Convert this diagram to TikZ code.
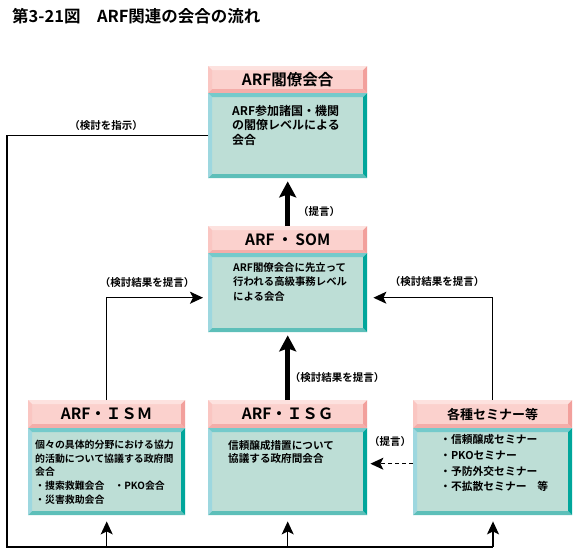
\documentclass[tikz,border=0pt]{standalone}
\usepackage{fontspec}
\setmainfont{Noto Sans CJK JP}[BoldFont={* Bold}]
\usepackage{tikz}
\usetikzlibrary{arrows.meta}

\definecolor{hdrfill}{HTML}{FBD1CD}
\definecolor{hdrtop}{HTML}{FDE2DF}
\definecolor{hdrleft}{HTML}{FAC6C2}
\definecolor{hdrright}{HTML}{F2A09C}
\definecolor{hdrbot}{HTML}{F4ADA9}
\definecolor{bodyfill}{HTML}{BDDED6}
\definecolor{bodytop}{HTML}{74CACB}
\definecolor{bodyleft}{HTML}{9DD7DF}
\definecolor{bodyright}{HTML}{00A69B}
\definecolor{bodybot}{HTML}{5DBFB9}

\tikzset{
  bev/.style n args={5}{fill=#1, inner sep=0pt, path picture={
    \coordinate (bnw) at (path picture bounding box.north west);
    \coordinate (bne) at (path picture bounding box.north east);
    \coordinate (bsw) at (path picture bounding box.south west);
    \coordinate (bse) at (path picture bounding box.south east);
    \fill[#2] (bnw) -- (bne) -- ([shift={(-4pt,-4pt)}]bne) -- ([shift={(4pt,-4pt)}]bnw) -- cycle;
    \fill[#3] (bnw) -- (bsw) -- ([shift={(4pt,4pt)}]bsw) -- ([shift={(4pt,-4pt)}]bnw) -- cycle;
    \fill[#4] (bne) -- (bse) -- ([shift={(-4pt,4pt)}]bse) -- ([shift={(-4pt,-4pt)}]bne) -- cycle;
    \fill[#5] (bsw) -- (bse) -- ([shift={(-4pt,4pt)}]bse) -- ([shift={(4pt,4pt)}]bsw) -- cycle;
  }},
  header/.style={bev={hdrfill}{hdrtop}{hdrleft}{hdrright}{hdrbot}, anchor=north west,
    minimum width=159pt, minimum height=27pt, font=\fontsize{15.5}{16}\bfseries},
  body/.style={bev={bodyfill}{bodytop}{bodyleft}{bodyright}{bodybot}, anchor=north west,
    minimum width=159pt, minimum height=85pt},
  bodytext/.style={anchor=north west, inner sep=0pt, align=left},
  note/.style={font=\fontsize{10.5}{12}\bfseries, inner sep=0pt},
  arr/.style={line width=1.2pt, -{Stealth[length=13pt,width=12pt,inset=3pt]}},
  bigarr/.style={line width=5pt, -{Stealth[length=16pt,width=17pt,inset=3pt]}}
}

\begin{document}
\begin{tikzpicture}[x=1pt, y=-1pt]
    \useasboundingbox (0,0) rectangle (578,555);

    \node (title) [anchor=west, inner sep=0pt, font=\fontsize{16.5}{18}\bfseries] at (12,16) {第3-21図　ARF関連の会合の流れ};

    % top level
    \node (toph) [header] at (208,66) {ARF閣僚会合};
    \node (topb) [body] at (208,93) {};
    \node (topt) [bodytext, font=\fontsize{12}{14.5}\bfseries] at (232,105) {ARF参加諸国・機関\\の閣僚レベルによる\\会合};

    % SOM
    \node (somh) [header, minimum height=28pt] at (208,226) {ARF\,・\,SOM};
    \node (somb) [body, minimum height=79pt] at (208,253) {};
    \node (somt) [bodytext, font=\fontsize{10.4}{14.5}\bfseries] at (233,262) {ARF閣僚会合に先立って\\行われる高級事務レベル\\による会合};

    % bottom row
    \node (ismh) [header, minimum width=157pt, minimum height=28pt] at (28,400) {ARF・ＩＳＭ};
    \node (ismb) [body, minimum width=157pt, minimum height=87pt] at (28,428) {};
    \node (ismt) [bodytext, font=\fontsize{9.9}{13.6}\bfseries] at (35,440) {個々の具体的分野における協力\\的活動について協議する政府間\\会合\\・捜索救難会合　・PKO会合\\・災害救助会合};

    \node (isgh) [header, minimum height=28pt] at (208,400) {ARF・ＩＳＧ};
    \node (isgb) [body, minimum height=87pt] at (208,428) {};
    \node (isgt) [bodytext, font=\fontsize{10.6}{13.6}\bfseries] at (228,440) {信頼醸成措置について\\協議する政府間会合};

    \node (semh) [header, minimum height=28pt, font=\fontsize{13}{14}\bfseries] at (413,400) {各種セミナー等};
    \node (semb) [body, minimum height=87pt] at (413,428) {};
    \node (semt) [bodytext, font=\fontsize{10.8}{15.8}\bfseries] at (440,434) {・信頼醸成セミナー\\・PKOセミナー\\・予防外交セミナー\\・不拡散セミナー　等};

    % loop from the ministers down to the working level
    \coordinate (cornerL) at (7,547);
    \coordinate (cornerR) at (493,547);
    \draw[line width=1.2pt] (topb.west) -| (cornerL) -- (cornerR);
    \draw[arr, shorten >=6pt] (ismb.south |- cornerR) -- (ismb.south);
    \draw[arr, shorten >=6pt] (isgb.south |- cornerR) -- (isgb.south);
    \draw[arr, shorten >=6pt] (cornerR) -- (cornerR |- semb.south);
    \node (instr) [note] at (106,126) {（検討を指示）};

    % reports upward
    \draw[bigarr] (somh.north) -- ([yshift=-3pt]topb.south);
    \node (prop1) [note] at (319,212) {（提言）};
    \draw[bigarr] (isgh.north) -- ([yshift=-3pt]somb.south);
    \node (res1) [note] at (337,378) {（検討結果を提言）};

    \draw[arr, shorten >=5pt] (ismh.north) |- ([yshift=-5pt]somb.west);
    \node (res2) [note] at (147,283) {（検討結果を提言）};
    \draw[arr, shorten >=6pt] (semh.north) |- ([yshift=-5pt]somb.east);
    \node (res3) [note] at (437,282) {（検討結果を提言）};

    \draw[arr, dash pattern=on 4pt off 3pt, shorten >=3pt] ([yshift=8pt]semb.west) -- ([yshift=8pt]isgb.east);
    \node (prop2) [note] at (390,442) {（提言）};
\end{tikzpicture}
\end{document}
